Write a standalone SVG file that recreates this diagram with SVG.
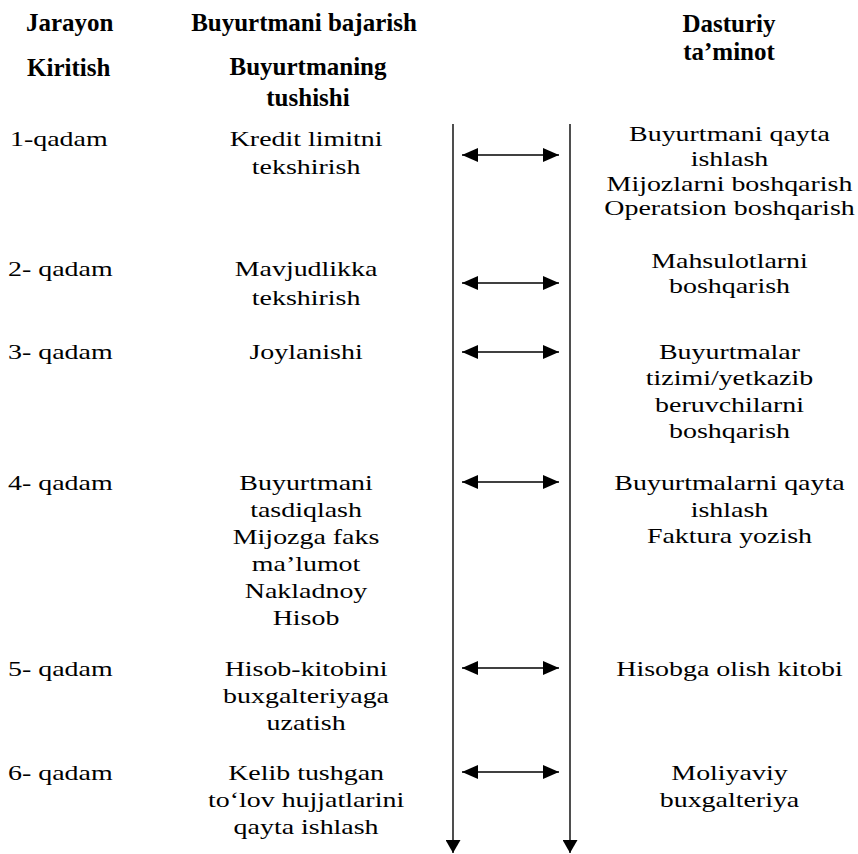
<svg xmlns="http://www.w3.org/2000/svg" width="858" height="854" viewBox="0 0 858 854">
  <style>
    text { font-family: "Liberation Serif", "Times New Roman", serif; fill: #000; }
    .hd { font-size: 25px; font-weight: bold; }
    .tx { font-size: 22px; }
    .c { text-anchor: middle; }
    .rail { stroke: #222; stroke-width: 1.6; fill: none; }
    .link { stroke: #000; stroke-width: 1.3; fill: none; }
  </style>
  <defs>
    <marker id="head" viewBox="0 0 16 14" refX="16" refY="7" markerWidth="16" markerHeight="14" markerUnits="userSpaceOnUse" orient="auto-start-reverse">
      <path d="M0,0 L16,7 L0,14 z" fill="#000"/>
    </marker>
    <marker id="down" viewBox="0 0 13 15" refX="13" refY="7.5" markerWidth="13" markerHeight="15" markerUnits="userSpaceOnUse" orient="auto">
      <path d="M0,0 L13,7.5 L0,15 z" fill="#000"/>
    </marker>
  </defs>

  <!-- column headings -->
  <g id="headings">
    <text class="hd" x="26" y="31">Jarayon</text>
    <text class="hd c" x="304" y="31">Buyurtmani bajarish</text>
    <text class="hd c" x="729" y="32">Dasturiy</text>
    <text class="hd c" x="729" y="60">ta’minot</text>
    <text class="hd" x="27" y="76">Kiritish</text>
    <text class="hd c" x="308" y="75">Buyurtmaning</text>
    <text class="hd c" x="308" y="106">tushishi</text>
  </g>

  <!-- connectors: two timeline rails and the step links between them -->
  <g id="connectors">
    <line class="rail" x1="453" y1="124" x2="453" y2="853" marker-end="url(#down)"/>
    <line class="rail" x1="570" y1="124" x2="570" y2="853" marker-end="url(#down)"/>
    <line class="link" x1="462" y1="155" x2="559" y2="155" marker-start="url(#head)" marker-end="url(#head)"/>
    <line class="link" x1="462" y1="283" x2="559" y2="283" marker-start="url(#head)" marker-end="url(#head)"/>
    <line class="link" x1="462" y1="352" x2="559" y2="352" marker-start="url(#head)" marker-end="url(#head)"/>
    <line class="link" x1="462" y1="482" x2="559" y2="482" marker-start="url(#head)" marker-end="url(#head)"/>
    <line class="link" x1="462" y1="668" x2="559" y2="668" marker-start="url(#head)" marker-end="url(#head)"/>
    <line class="link" x1="462" y1="772" x2="559" y2="772" marker-start="url(#head)" marker-end="url(#head)"/>
  </g>

  <!-- step rows; body text is set wide (x scaled by 1.27, x positions divided accordingly) -->
  <g id="step-1" transform="scale(1.27 1)">
    <text class="tx" x="7.9" y="146">1-qadam</text>
    <text class="tx c" x="241" y="146">Kredit limitni</text>
    <text class="tx c" x="241" y="174">tekshirish</text>
    <text class="tx c" x="574.4" y="141">Buyurtmani qayta</text>
    <text class="tx c" x="574.4" y="166">ishlash</text>
    <text class="tx c" x="574.4" y="191">Mijozlarni boshqarish</text>
    <text class="tx c" x="574.4" y="215">Operatsion boshqarish</text>
  </g>

  <g id="step-2" transform="scale(1.27 1)">
    <text class="tx" x="6.3" y="276">2- qadam</text>
    <text class="tx c" x="241" y="276">Mavjudlikka</text>
    <text class="tx c" x="241" y="305">tekshirish</text>
    <text class="tx c" x="574.4" y="268">Mahsulotlarni</text>
    <text class="tx c" x="574.4" y="293">boshqarish</text>
  </g>

  <g id="step-3" transform="scale(1.27 1)">
    <text class="tx" x="6.3" y="359">3- qadam</text>
    <text class="tx c" x="241" y="359">Joylanishi</text>
    <text class="tx c" x="574.4" y="359">Buyurtmalar</text>
    <text class="tx c" x="574.4" y="385">tizimi/yetkazib</text>
    <text class="tx c" x="574.4" y="412">beruvchilarni</text>
    <text class="tx c" x="574.4" y="438">boshqarish</text>
  </g>

  <g id="step-4" transform="scale(1.27 1)">
    <text class="tx" x="6.3" y="490">4- qadam</text>
    <text class="tx c" x="241" y="490">Buyurtmani</text>
    <text class="tx c" x="241" y="517">tasdiqlash</text>
    <text class="tx c" x="241" y="544">Mijozga faks</text>
    <text class="tx c" x="241" y="571">ma’lumot</text>
    <text class="tx c" x="241" y="598">Nakladnoy</text>
    <text class="tx c" x="241" y="625">Hisob</text>
    <text class="tx c" x="574.4" y="490">Buyurtmalarni qayta</text>
    <text class="tx c" x="574.4" y="517">ishlash</text>
    <text class="tx c" x="574.4" y="543">Faktura yozish</text>
  </g>

  <g id="step-5" transform="scale(1.27 1)">
    <text class="tx" x="6.3" y="676">5- qadam</text>
    <text class="tx c" x="241" y="676">Hisob-kitobini</text>
    <text class="tx c" x="241" y="703">buxgalteriyaga</text>
    <text class="tx c" x="241" y="730">uzatish</text>
    <text class="tx c" x="574.4" y="676">Hisobga olish kitobi</text>
  </g>

  <g id="step-6" transform="scale(1.27 1)">
    <text class="tx" x="6.3" y="780">6- qadam</text>
    <text class="tx c" x="241" y="780">Kelib tushgan</text>
    <text class="tx c" x="241" y="807">to‘lov hujjatlarini</text>
    <text class="tx c" x="241" y="834">qayta ishlash</text>
    <text class="tx c" x="574.4" y="780">Moliyaviy</text>
    <text class="tx c" x="574.4" y="807">buxgalteriya</text>
  </g>
</svg>
